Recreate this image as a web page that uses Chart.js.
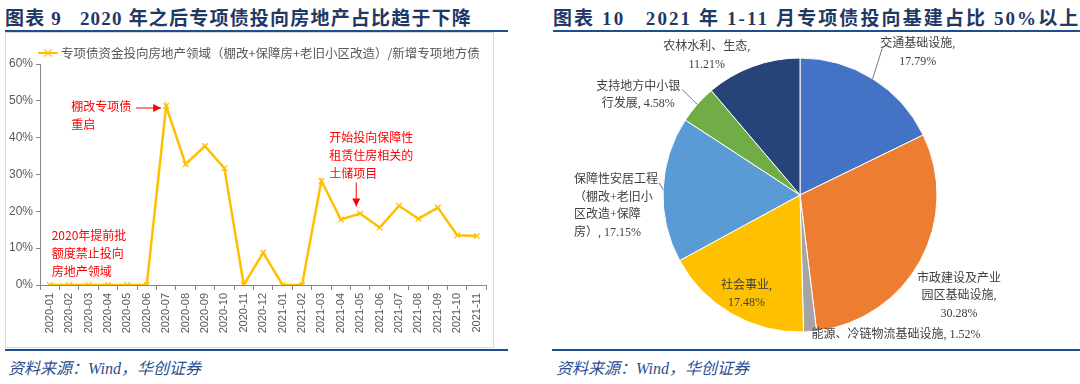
<!DOCTYPE html>
<html>
<head>
<meta charset="utf-8">
<script src="https://cdn.jsdelivr.net/npm/chart.js@4.4.1/dist/chart.umd.min.js"></script>
<style>
  body { margin: 0; background: #fff; width: 1080px; height: 384px; position: relative; overflow: hidden; }
  .title { position: absolute; top: 3px; font: bold 19px "Liberation Serif", "Noto Sans CJK SC", serif; color: #1f3864; white-space: pre; letter-spacing: 1.2px; }
  .rule { position: absolute; height: 2px; background: #1f4e8c; }
  .source { position: absolute; top: 355px; font: italic 16px "Liberation Serif", "Noto Sans CJK SC", serif; color: #2a4f8f; white-space: pre; }
  #box1 { position: absolute; left: 5px; top: 32px; width: 487px; height: 314px; border: 1px solid #d9d9d9; }
  #wrap2 { position: absolute; left: 553px; top: 32px; width: 522px; height: 316px; }
</style>
</head>
<body>
<div class="title" style="left:5px">图表 9   2020 年之后专项债投向房地产占比趋于下降</div>
<div class="rule" style="left:5px; width:503px; top:30px; height:1.5px"></div>
<div class="rule" style="left:553px; width:527px; top:30px; height:1.5px"></div>
<div id="box1"><canvas id="lineChart"></canvas></div>
<div class="title" style="left:553px; letter-spacing:2.1px">图表 10   2021 年 1-11 月专项债投向基建占比 50%以上</div>
<div id="wrap2"><canvas id="pieChart"></canvas></div>
<div class="rule" style="left:5px; width:503px; top:349px"></div>
<div class="rule" style="left:552px; width:528px; top:349px"></div>
<div class="source" style="left:8px">资料来源：Wind，华创证券</div>
<div class="source" style="left:556px">资料来源：Wind，华创证券</div>

<script>
// Left chart data
const months = ["2020-01", "2020-02", "2020-03", "2020-04", "2020-05", "2020-06", "2020-07", "2020-08",
  "2020-09", "2020-10", "2020-11", "2020-12", "2021-01", "2021-02", "2021-03", "2021-04", "2021-05",
  "2021-06", "2021-07", "2021-08", "2021-09", "2021-10", "2021-11"];
const shareValues = [0, 0, 0, 0, 0, 0, 48.6, 32.8, 37.7, 31.7, 0, 8.8, 0, 0, 28.3, 17.8, 19.4, 15.6, 21.5, 18.0, 21.0, 13.5, 13.3];
const seriesName = "专项债资金投向房地产领域（棚改+保障房+老旧小区改造）/新增专项地方债";

// Right chart data
const sectors = ["交通基础设施", "市政建设及产业园区基础设施", "能源、冷链物流基础设施", "社会事业",
  "保障性安居工程（棚改+老旧小区改造+保障房）", "支持地方中小银行发展", "农林水利、生态"];
const sectorShares = [17.79, 30.28, 1.52, 17.48, 17.15, 4.58, 11.21];
const sectorLabelLines = [
  ["交通基础设施,", "{p}"],
  ["市政建设及产业", "园区基础设施,", "{p}"],
  ["能源、冷链物流基础设施, {p}"],
  ["社会事业,", "{p}"],
  ["保障性安居工程", "（棚改+老旧小", "区改造+保障", "房）, {p}"],
  ["支持地方中小银", "行发展, {p}"],
  ["农林水利、生态,", "{p}"]
];

const lineColor = "#ffc000";
const sectorColors = ["#4472c4", "#ed7d31", "#a5a5a5", "#ffc000", "#5b9bd5", "#70ad47", "#264478"];

// Annotations for the left chart, anchored to a data point (offsets in px)
const notes = [
  { at: 6, lines: ["棚改专项债", "重启"], dx: -95, dy: 0, arrow: [-30, 2, -5, 2] },
  { at: 16, lines: ["开始投向保障性", "租赁住房相关的", "土储项目"], dx: -31, dy: -76, arrow: [-4, -31, -4, -7] },
  { at: 0, lines: ["2020年提前批", "额度禁止投向", "房地产领域"], dx: 2, dy: -50 }
];

// Pie label layout, in units of the radius from the centre
const pieLabelLayout = [
  { kx: 0.86, ky: -1.10, align: "center", leader: [0.60, -1.07] },
  { kx: 1.16, ky: 0.61, align: "center" },
  { kx: 0.70, ky: 1.02, align: "center" },
  { kx: -0.39, ky: 0.66, align: "center" },
  { kx: -1.65, ky: -0.11, align: "left", leader: [-1.03, -0.09] },
  { kx: -1.18, ky: -0.79, align: "center", leader: [-0.86, -0.77] },
  { kx: -0.68, ky: -1.08, align: "center" }
];

function drawCross(ctx, x, y, r) {
  ctx.beginPath();
  ctx.moveTo(x - r, y - r); ctx.lineTo(x + r, y + r);
  ctx.moveTo(x - r, y + r); ctx.lineTo(x + r, y - r);
  ctx.stroke();
}

const lineExtras = {
  id: "lineExtras",
  afterDraw(chart) {
    const ctx = chart.ctx;
    const xs = chart.scales.x, ys = chart.scales.y;
    ctx.save();
    // legend
    const lx = 32, ly = 20;
    ctx.strokeStyle = lineColor;
    ctx.lineWidth = 2;
    ctx.beginPath(); ctx.moveTo(lx, ly); ctx.lineTo(lx + 20, ly); ctx.stroke();
    ctx.lineWidth = 1.2;
    drawCross(ctx, lx + 10, ly, 3.5);
    ctx.fillStyle = "#595959";
    ctx.font = '12.5px "Noto Sans CJK SC"';
    ctx.textBaseline = "middle";
    ctx.fillText(chart.data.datasets[0].label, lx + 23, ly);

    // annotations
    ctx.font = '12px "Noto Sans CJK SC"';
    notes.forEach(n => {
      const px = xs.getPixelForValue(n.at), py = ys.getPixelForValue(shareValues[n.at]);
      ctx.fillStyle = "#ff0000";
      ctx.textAlign = "left";
      n.lines.forEach((t, i) => ctx.fillText(t, px + n.dx, py + n.dy + i * 18));
      if (n.arrow) {
        const [x1, y1, x2, y2] = n.arrow;
        const ax = px + x1, ay = py + y1, bx = px + x2, by = py + y2;
        ctx.strokeStyle = "#ff0000";
        ctx.lineWidth = 1;
        ctx.beginPath(); ctx.moveTo(ax, ay); ctx.lineTo(bx, by); ctx.stroke();
        const ang = Math.atan2(by - ay, bx - ax);
        ctx.beginPath();
        ctx.moveTo(bx, by);
        ctx.lineTo(bx - 8 * Math.cos(ang) + 4 * Math.sin(ang), by - 8 * Math.sin(ang) - 4 * Math.cos(ang));
        ctx.lineTo(bx - 8 * Math.cos(ang) - 4 * Math.sin(ang), by - 8 * Math.sin(ang) + 4 * Math.cos(ang));
        ctx.closePath();
        ctx.fill();
      }
    });
    ctx.restore();
  }
};

const pieLabels = {
  id: "pieLabels",
  afterDatasetsDraw(chart) {
    const ctx = chart.ctx;
    const meta = chart.getDatasetMeta(0);
    ctx.save();
    ctx.font = '12px "Liberation Serif", "Noto Sans CJK SC"';
    ctx.fillStyle = "#404040";
    ctx.textBaseline = "middle";
    meta.data.forEach((arc, i) => {
      const p = arc.getProps(["x", "y", "outerRadius", "startAngle", "endAngle"], true);
      const L = pieLabelLayout[i];
      const cx = p.x + L.kx * p.outerRadius, cy = p.y + L.ky * p.outerRadius;
      const pct = sectorShares[i].toFixed(2) + "%";
      ctx.textAlign = L.align;
      sectorLabelLines[i].forEach((t, j) => ctx.fillText(t.replace("{p}", pct), cx, cy + j * 17.5));
      if (L.leader) {
        const mid = (p.startAngle + p.endAngle) / 2;
        ctx.strokeStyle = "#595959";
        ctx.lineWidth = 0.8;
        ctx.beginPath();
        ctx.moveTo(p.x + Math.cos(mid) * p.outerRadius, p.y + Math.sin(mid) * p.outerRadius);
        ctx.lineTo(p.x + L.leader[0] * p.outerRadius, p.y + L.leader[1] * p.outerRadius);
        ctx.stroke();
      }
    });
    ctx.restore();
  }
};

new Chart(document.getElementById("lineChart"), {
  type: "line",
  data: {
    labels: months,
    datasets: [{
      label: seriesName,
      data: shareValues,
      borderColor: lineColor,
      borderWidth: 2.5,
      tension: 0,
      pointStyle: "crossRot",
      pointRadius: 4,
      pointBorderColor: lineColor,
      pointBorderWidth: 1.3
    }]
  },
  options: {
    responsive: true,
    maintainAspectRatio: false,
    animation: false,
    layout: { padding: { top: 31, right: 6, left: 0, bottom: 0 } },
    plugins: { legend: { display: false }, tooltip: { enabled: false } },
    scales: {
      x: {
        offset: true,
        grid: { offset: true, drawOnChartArea: false, drawTicks: true, tickLength: 5, color: "#868686" },
        border: { color: "#868686" },
        ticks: { maxRotation: 90, minRotation: 90, autoSkip: false, color: "#595959", font: { family: "Liberation Sans", size: 11 }, padding: 3 },
        afterFit: s => { s.height = 62; }
      },
      y: {
        min: 0, max: 60,
        ticks: { stepSize: 10, color: "#595959", font: { family: "Liberation Sans", size: 12 }, callback: v => v + "%", padding: 3 },
        grid: { drawOnChartArea: false, drawTicks: true, tickLength: 4, color: "#868686" },
        border: { color: "#868686" },
        afterFit: s => { s.width = 34; }
      }
    }
  },
  plugins: [lineExtras]
});

new Chart(document.getElementById("pieChart"), {
  type: "pie",
  data: {
    labels: sectors,
    datasets: [{
      data: sectorShares,
      backgroundColor: sectorColors,
      borderColor: "#ffffff",
      borderWidth: 1
    }]
  },
  options: {
    responsive: true,
    maintainAspectRatio: false,
    animation: false,
    radius: 137,
    layout: { padding: { top: 10, right: 28, left: 0, bottom: 0 } },
    plugins: { legend: { display: false }, tooltip: { enabled: false } }
  },
  plugins: [pieLabels]
});
</script>
</body>
</html>
